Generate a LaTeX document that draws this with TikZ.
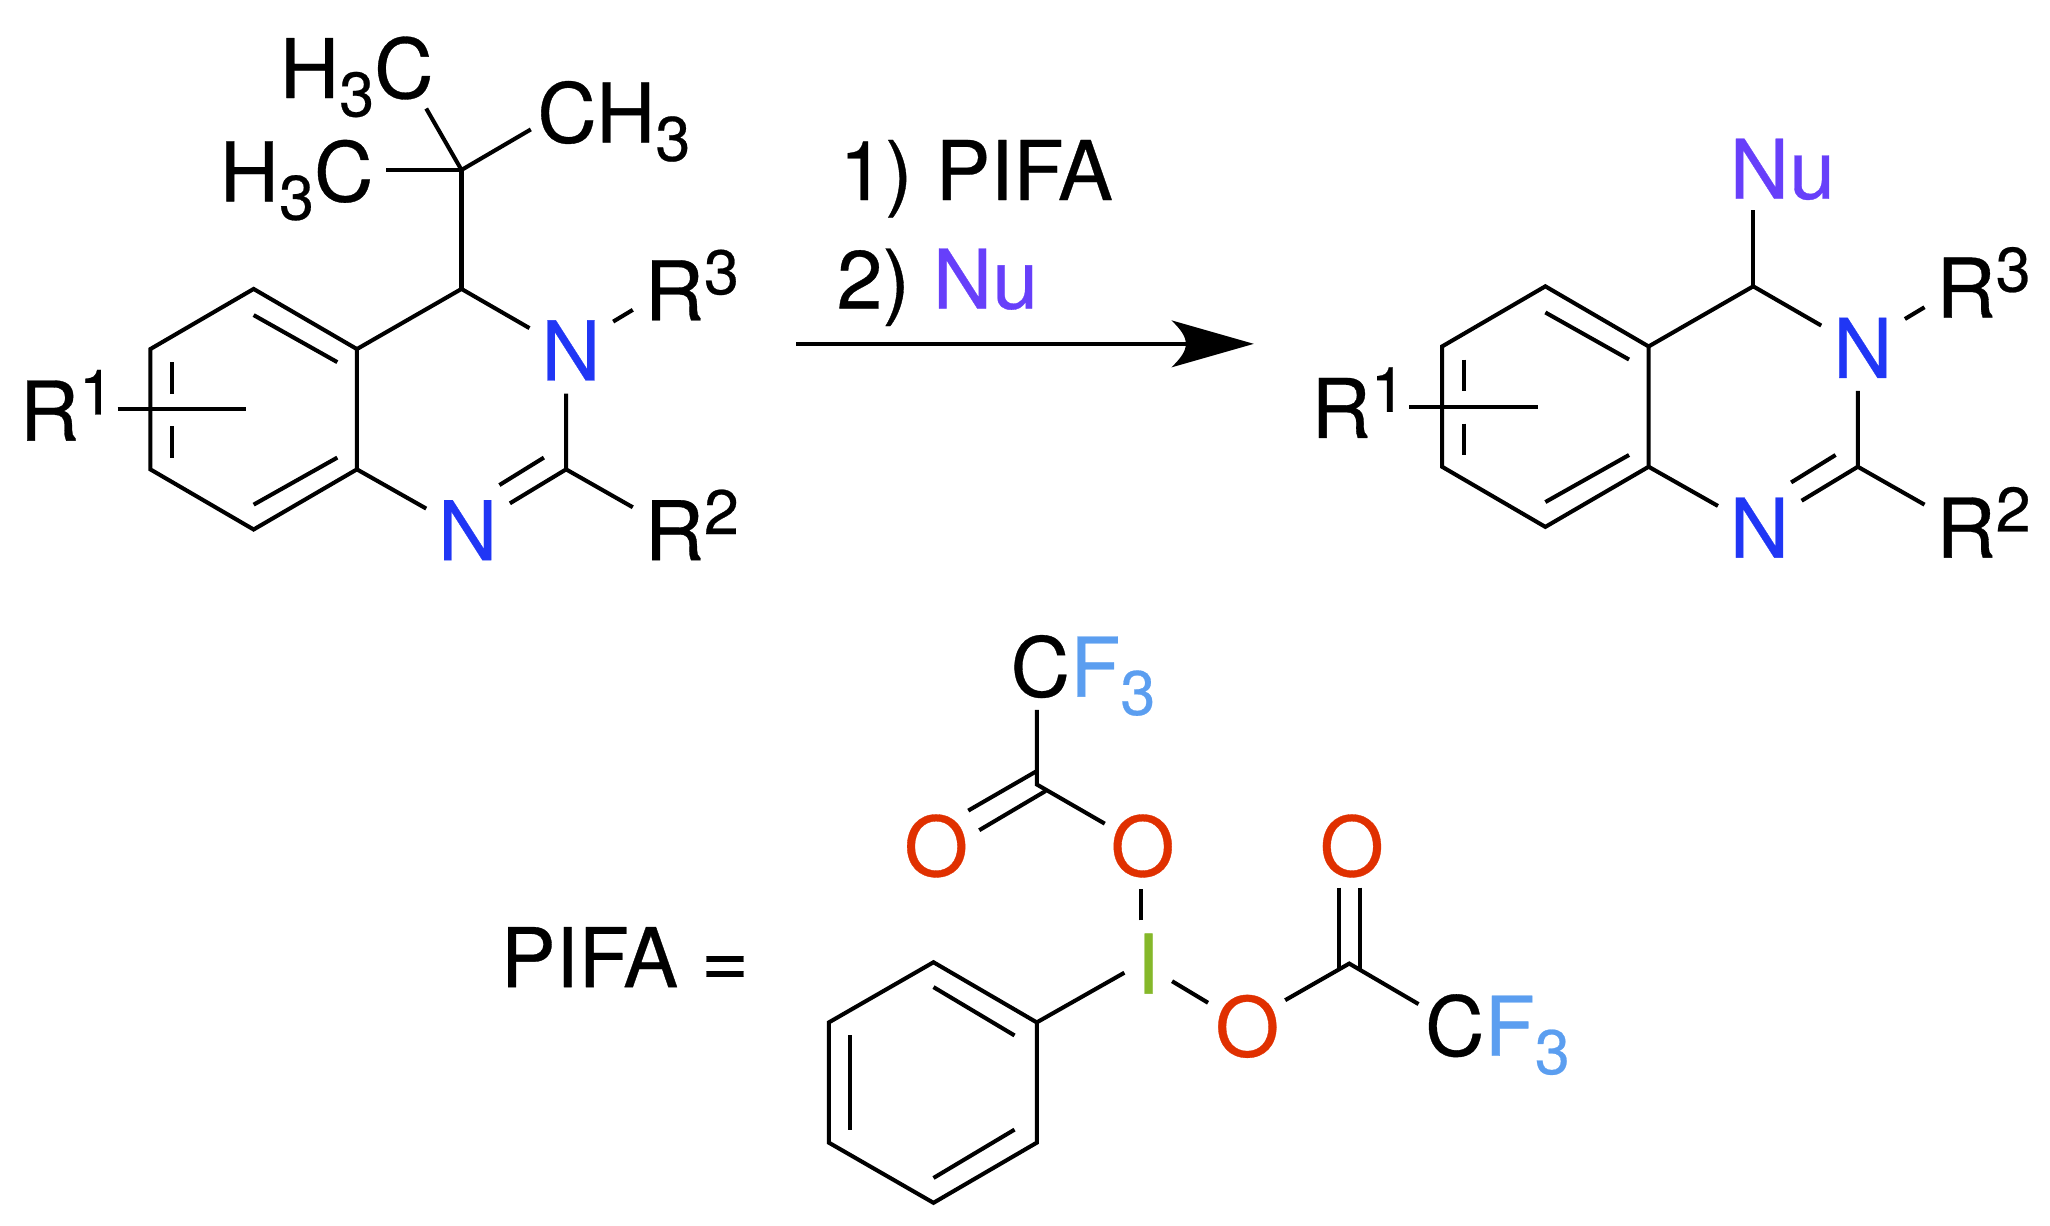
\documentclass[tikz,border=0pt]{standalone}
\usepackage{fontspec}
\setmainfont[FakeBold=0.4]{TeX Gyre Heros}
\usetikzlibrary{arrows.meta}
\definecolor{nblue}{HTML}{2036F5}
\definecolor{nupur}{HTML}{673FFA}
\definecolor{ored}{HTML}{E03000}
\definecolor{fblue}{HTML}{5B9EF0}
\definecolor{igreen}{HTML}{85B82A}
\newcommand\subs[1]{\raisebox{-7pt}{\fontsize{24}{24}\selectfont #1}}
\newcommand\sups[1]{\raisebox{10pt}{\fontsize{24}{24}\selectfont #1}}
\pgfdeclarearrow{
  name=ChemHead,
  setup code={
    \pgfarrowssettipend{0pt}
    \pgfarrowssetlineend{-24pt}
    \pgfarrowssetvisualbackend{-31.5pt}
    \pgfarrowssetbackend{-31.5pt}
    \pgfarrowshullpoint{0pt}{0pt}
    \pgfarrowshullpoint{-31.5pt}{9pt}
    \pgfarrowshullpoint{-31.5pt}{-9pt}
  },
  drawing code={
    \pgfsetdash{}{0pt}
    \pgfpathmoveto{\pgfqpoint{0pt}{0pt}}
    \pgfpathlineto{\pgfqpoint{-31.5pt}{9pt}}
    \pgfpathcurveto{\pgfqpoint{-28pt}{5.5pt}}{\pgfqpoint{-26pt}{3pt}}{\pgfqpoint{-26pt}{0pt}}
    \pgfpathcurveto{\pgfqpoint{-26pt}{-3pt}}{\pgfqpoint{-28pt}{-5.5pt}}{\pgfqpoint{-31.5pt}{-9pt}}
    \pgfpathclose
    \pgfusepathqfill
  }
}
\tikzset{
  lab/.style={inner sep=0pt,outer sep=0pt,anchor=base west,font=\fontsize{31.5}{31.5}\selectfont},
  labc/.style={inner sep=0pt,outer sep=0pt,anchor=base,font=\fontsize{31.5}{31.5}\selectfont},
  bond/.style={line width=1.55pt,line cap=butt,line join=miter},
  rxn/.style={line width=1.55pt,-{ChemHead}}
}
\begin{document}
\begin{tikzpicture}[x=0.5pt,y=-0.5pt]
\useasboundingbox (0,0) rectangle (1568,937);
% shared quinazoline core
\newcommand\core{%
  \coordinate (a1) at (194,221);
  \coordinate (a2) at (273,267);
  \coordinate (a3) at (273,359);
  \coordinate (a4) at (194,405);
  \coordinate (a5) at (115,359);
  \coordinate (a6) at (115,267);
  \coordinate (c4) at (353,221);
  \coordinate (c2) at (433,359);
  \coordinate (i1a) at (194,241);
  \coordinate (i1b) at (258,277);
  \coordinate (i2a) at (258,350);
  \coordinate (i2b) at (194,386);
  \coordinate (i3a) at (131.5,277);
  \coordinate (i3b) at (131.5,301);
  \coordinate (i4a) at (131.5,326);
  \coordinate (i4b) at (131.5,350);
  \coordinate (g1) at (405,251);
  \coordinate (g2) at (433,301);
  \coordinate (g3) at (469,246);
  \coordinate (g4) at (484,237);
  \coordinate (g5) at (484,388);
  \coordinate (g6) at (390,385);
  \coordinate (g7) at (416,350);
  \coordinate (g8) at (382,371);
  \coordinate (g9) at (326,389);
  \coordinate (r1a) at (90,313);
  \coordinate (r1b) at (188,313);
  \draw[bond] (a1) -- (a2) -- (a3) -- (a4) -- (a5) -- (a6) -- cycle;
  \draw[bond] (i1a) -- (i1b);
  \draw[bond] (i2a) -- (i2b);
  \draw[bond] (i3a) -- (i3b);
  \draw[bond] (i4a) -- (i4b);
  \draw[bond] (a2) -- (c4) -- (g1);
  \draw[bond] (g2) -- (c2) -- (g5);
  \draw[bond] (c2) -- (g6);
  \draw[bond] (g7) -- (g8);
  \draw[bond] (a3) -- (g9);
  \draw[bond] (g3) -- (g4);
  \draw[bond] (r1a) -- (r1b);
  \node[lab] (r1) at (15,337) {R\sups{1}};
  \node[lab,text=nblue] (n3) at (414,291) {N};
  \node[lab,text=nblue] (n1) at (335,428.5) {N};
  \node[lab] (r3) at (493,245) {R\sups{3}};
  \node[lab] (r2) at (493,428.5) {R\sups{2}};
}
\begin{scope}[name prefix=l-]
  \core
  \coordinate (q) at (353,130);
  \coordinate (m1) at (326,83);
  \coordinate (m2) at (295,130);
  \coordinate (m3) at (406,99);
  \draw[bond] (c4) -- (q);
  \draw[bond] (q) -- (m1);
  \draw[bond] (q) -- (m2);
  \draw[bond] (q) -- (m3);
  \node[lab] (me1) at (214,75) {H\subs{3}C};
  \node[lab] (me2) at (168,154) {H\subs{3}C};
  \node[lab] (me3) at (411,109) {CH\subs{3}};
\end{scope}
\begin{scope}[shift={(988,-2)},name prefix=r-]
  \core
  \coordinate (nue) at (353,163);
  \draw[bond] (c4) -- (nue);
  \node[lab,text=nupur] (nu) at (335,154) {Nu};
\end{scope}
% reaction arrow and conditions
\coordinate (arrs) at (609,263);
\coordinate (arre) at (959,263);
\draw[rxn] (arrs) -- (arre);
\node[lab] (s1) at (642,153) {1) PIFA};
\node[lab] (s2) at (640,236) {2) {\color{nupur}Nu}};
% PIFA definition
\node[lab] (pifa) at (383,755) {PIFA =};
\coordinate (p1) at (714,736);
\coordinate (p2) at (793,782);
\coordinate (p3) at (793,874);
\coordinate (p4) at (714,920);
\coordinate (p5) at (634,874);
\coordinate (p6) at (634,782);
\coordinate (j1a) at (714,755);
\coordinate (j1b) at (776,792);
\coordinate (j2a) at (776,864);
\coordinate (j2b) at (714,901);
\coordinate (j3a) at (650,792);
\coordinate (j3b) at (650,864);
\draw[bond] (p1) -- (p2) -- (p3) -- (p4) -- (p5) -- (p6) -- cycle;
\draw[bond] (j1a) -- (j1b);
\draw[bond] (j2a) -- (j2b);
\draw[bond] (j3a) -- (j3b);
\node[labc,text=igreen] (iod) at (878,760) {I};
\coordinate (ig1) at (860,744);
\coordinate (ig2) at (873,704);
\coordinate (ig3) at (873,680);
\coordinate (ig4) at (896.5,750.5);
\coordinate (ig5) at (924,767);
\draw[bond] (p2) -- (ig1);
\draw[bond] (ig2) -- (ig3);
\draw[bond] (ig4) -- (ig5);
\node[labc,text=ored] (o1) at (874,670) {O};
\node[labc,text=ored] (o2) at (716,670) {O};
\node[labc,text=ored] (o3) at (1034,670) {O};
\node[labc,text=ored] (o4) at (954,808) {O};
% upper acetate
\coordinate (ca) at (793,600);
\coordinate (ca1) at (793,543);
\coordinate (ca2) at (845,630);
\coordinate (ca3) at (792.6,590);
\coordinate (ca4) at (740.6,620);
\coordinate (ca5) at (799.8,605);
\coordinate (ca6) at (749,635);
\draw[bond] (ca1) -- (ca) -- (ca2);
\draw[bond] (ca3) -- (ca4);
\draw[bond] (ca5) -- (ca6);
\node[lab] (cf1) at (773,532.8) {C{\color{fblue}F\subs{3}}};
% right acetate
\coordinate (cb) at (1032,737);
\coordinate (cb1) at (983,765);
\coordinate (cb2) at (1085,768);
\coordinate (cb3) at (1024,679);
\coordinate (cb4) at (1024,742);
\coordinate (cb5) at (1040,679);
\coordinate (cb6) at (1040,742);
\draw[bond] (cb1) -- (cb) -- (cb2);
\draw[bond] (cb3) -- (cb4);
\draw[bond] (cb5) -- (cb6);
\node[lab] (cf2) at (1090,807.5) {C{\color{fblue}F\subs{3}}};
\end{tikzpicture}
\end{document}
